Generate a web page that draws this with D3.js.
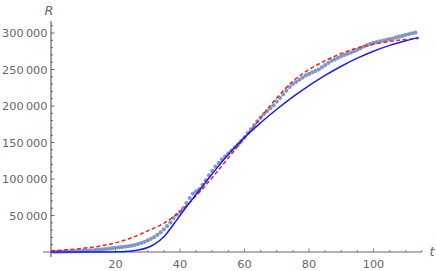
<!DOCTYPE html>
<html><head><meta charset="utf-8">
<script src="https://cdn.jsdelivr.net/npm/d3@7"></script>
<style>
body{margin:0;background:#fff;}
svg{display:block;font-family:"DejaVu Sans","Liberation Sans",sans-serif;}
</style></head>
<body><svg id="c" width="436" height="271"></svg>
<script>
// Observed data R(t), thousands, t = 1..113
const dataT0 = 1;
const dataR = [0.2,0.3,0.4,0.5,0.6,0.8,0.9,1.1,1.3,1.5,
1.8,2.1,2.4,2.8,3.2,3.6,4.1,4.6,5.2,5.8,
6.3,6.8,7.3,7.9,8.6,9.6,10.8,12.3,14.0,15.9,
18.0,20.5,23.5,27.0,31.0,35.5,40.5,46.5,51.0,55.0,
60.0,67.0,74.0,80.0,83.0,86.0,92.0,98.0,105.0,111.0,
117.0,122.0,127.0,131.0,135.0,139.0,143.0,147.0,152.0,157.0,
163.0,168.0,174.0,179.0,184.0,189.0,193.0,197.0,201.0,206.0,
211.0,216.0,221.0,226.0,230.0,233.0,236.0,239.0,242.0,244.0,
246.0,248.0,250.0,253.0,256.0,259.0,262.0,264.0,266.0,268.0,
270.0,271.5,273.0,275.0,277.0,279.0,281.5,283.5,285.0,286.5,
287.5,288.5,289.5,290.5,291.5,292.5,294.0,295.0,296.0,297.5,
298.5,299.5,300.5];
// Red dashed fit
const redT = [0,5,10,15,20,25,30,35,40,45,50,55,60,65,70,75,80,85,90,95,100,105,110,114];
const redR = [1.8,3.0,5.0,8.0,12.5,19.5,29.0,39.5,55.5,77.0,102.0,129.0,156.0,184.0,211.0,234.0,250.0,262.0,272.0,279.5,284.5,288.5,291.0,292.5];
// Blue solid fit
const blueT = [0,15,20,23,25,27,30,32,35,36,38,40,42,45,48,50,55,60,65,70,75,80,85,90,95,100,105,110,114];
const blueR = [0,0,0.2,0.6,1.3,2.6,6.2,10.5,21,26,38,50,62,79,96,107,134,157,177,195.5,212.5,228,242,254.5,265.5,275,283,289.5,294];
const xTicks = [20,40,60,80,100];
const yTicks = [50000,100000,150000,200000,250000,300000];

const svg = d3.select("#c");
const x = d3.scaleLinear().domain([0,115]).range([51,421.9]);
const y = d3.scaleLinear().domain([0,300000]).range([252,33]);
const axisCol = "#666", labCol = "#666";

// axes lines
svg.append("line").attr("x1",43).attr("x2",422).attr("y1",y(0)).attr("y2",y(0)).attr("stroke",axisCol).attr("stroke-width",1);
svg.append("line").attr("x1",x(0)).attr("x2",x(0)).attr("y1",257).attr("y2",21).attr("stroke","#444").attr("stroke-width",1);

// x ticks
d3.range(5,116,5).forEach(v=>{
  const major = v%20===0;
  svg.append("line").attr("x1",x(v)).attr("x2",x(v)).attr("y1",y(0)).attr("y2",y(0)-(major?3.5:2))
    .attr("stroke",axisCol).attr("stroke-width",0.8);
});
xTicks.forEach(v=>{
  svg.append("text").attr("x",x(v)).attr("y",267.5).attr("text-anchor","middle")
    .attr("font-size","11.3px").attr("fill",labCol).text(v);
});
// y ticks
d3.range(10000,311000,10000).forEach(v=>{
  const major = v%50000===0;
  svg.append("line").attr("x1",x(0)).attr("x2",x(0)+(major?3.5:2)).attr("y1",y(v)).attr("y2",y(v))
    .attr("stroke","#444").attr("stroke-width",0.8);
});
const fmt = v => { const s = String(v); return s.slice(0,s.length-3)+"\u2009"+s.slice(-3); };
yTicks.forEach(v=>{
  svg.append("text").attr("x",47.5).attr("y",y(v)+4).attr("text-anchor","end")
    .attr("font-size","11.3px").attr("fill",labCol).text(fmt(v));
});
// axis labels
svg.append("text").attr("x",49).attr("y",15).attr("text-anchor","middle").attr("font-style","italic")
  .attr("font-size","13px").attr("fill",labCol).text("R");
svg.append("text").attr("x",432).attr("y",256).attr("text-anchor","middle").attr("font-style","italic")
  .attr("font-size","13px").attr("fill",labCol).text("t");

// dots
svg.append("g").selectAll("circle").data(dataR).join("circle")
  .attr("cx",(d,i)=>x(dataT0+i)).attr("cy",d=>y(d*1000)).attr("r",2.1)
  .attr("fill","#6f8fc2").attr("fill-opacity",0.9);

const line = d3.line().x(d=>x(d[0])).y(d=>y(d[1]*1000)).curve(d3.curveMonotoneX);
svg.append("path").attr("d",line(redT.map((t,i)=>[t,redR[i]])))
  .attr("fill","none").attr("stroke","#ff1a1a").attr("stroke-width",1.5).attr("stroke-dasharray","4,2.5");
svg.append("path").attr("d",line(blueT.map((t,i)=>[t,blueR[i]])))
  .attr("fill","none").attr("stroke","#1a1aff").attr("stroke-width",1.5);
</script></body></html>
